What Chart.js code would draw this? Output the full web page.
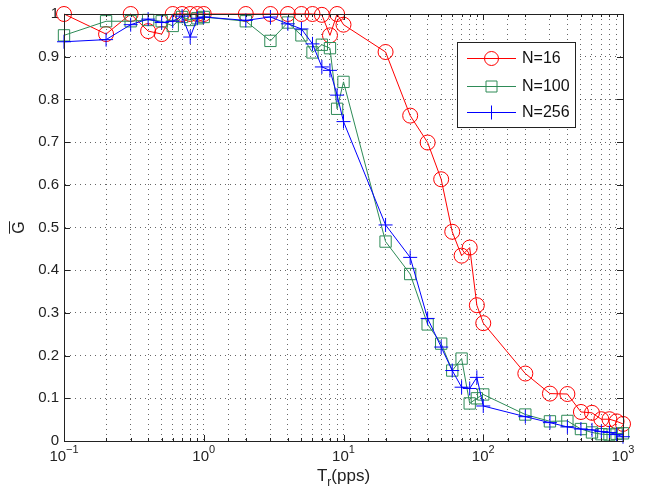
<!DOCTYPE html>
<html>
<head>
<meta charset="utf-8">
<script src="https://cdn.jsdelivr.net/npm/chart.js@4"></script>
<style>
  html, body { margin: 0; padding: 0; background: #fff; }
  #wrap { width: 656px; height: 492px; }
</style>
</head>
<body>
<div id="wrap"><canvas id="chart" width="656" height="492"></canvas></div>
<script>
// --- data ---
const rates = [0.1, 0.2, 0.3, 0.4, 0.5, 0.6, 0.7, 0.8, 0.9, 1,
  2, 3, 4, 5, 6, 7, 8, 9, 10,
  20, 30, 40, 50, 60, 70, 80, 90, 100,
  200, 300, 400, 500, 600, 700, 800, 900, 1000];
const g16 = [1, 0.953, 1, 0.96, 0.953, 1, 1, 1, 1, 1,
  1, 1, 1, 1, 1, 0.998, 0.95, 1, 0.975,
  0.911, 0.762, 0.699, 0.613, 0.49, 0.434, 0.453, 0.318, 0.276,
  0.158, 0.111, 0.11, 0.068, 0.066, 0.051, 0.051, 0.046, 0.04];
const g100 = [0.95, 0.983, 0.983, 0.986, 0.983, 0.972, 0.993, 0.986, 0.99, 0.993,
  0.983, 0.937, 0.98, 0.95, 0.91, 0.928, 0.92, 0.778, 0.841,
  0.467, 0.391, 0.273, 0.228, 0.165, 0.193, 0.088, 0.1, 0.109,
  0.062, 0.046, 0.047, 0.028, 0.02, 0.016, 0.015, 0.017, 0.018];
const g256 = [0.935, 0.94, 0.975, 0.988, 0.98, 0.983, 0.995, 0.946, 0.99, 0.993,
  0.985, 0.993, 0.977, 0.965, 0.93, 0.876, 0.868, 0.81, 0.748,
  0.506, 0.43, 0.287, 0.22, 0.165, 0.126, 0.123, 0.149, 0.082,
  0.057, 0.043, 0.033, 0.028, 0.026, 0.022, 0.02, 0.015, 0.01];
const seriesNames = ['N=16', 'N=100', 'N=256'];
const xExponents = [-1, 0, 1, 2, 3];
const yTicks = [0, 0.1, 0.2, 0.3, 0.4, 0.5, 0.6, 0.7, 0.8, 0.9, 1];

const RED = '#ff0000', GREEN = 'rgb(46,139,87)', BLUE = '#0000ff';
const FONT = '"Liberation Sans", Arial, sans-serif';

function toPoints(ys) {
  return rates.map((x, i) => ({ x: x, y: ys[i] }));
}

function isPow10(v) {
  const l = Math.log10(v);
  return Math.abs(l - Math.round(l)) < 1e-9;
}

// marker drawing for the legend
function marker(ctx, style, x, y, color) {
  ctx.strokeStyle = color;
  ctx.lineWidth = 1;
  ctx.beginPath();
  if (style === 'circle') {
    ctx.arc(x, y, 7, 0, Math.PI * 2);
  } else if (style === 'rect') {
    ctx.rect(x - 5.5, y - 5.5, 11, 11);
  } else {
    ctx.moveTo(x - 7, y); ctx.lineTo(x + 7, y);
    ctx.moveTo(x, y - 7); ctx.lineTo(x, y + 7);
  }
  ctx.stroke();
}

const decorPlugin = {
  id: 'decor',
  afterDraw(chart) {
    const { ctx, chartArea: a, scales } = chart;
    const xs = scales.x, ys = scales.y;
    ctx.save();

    // axes box
    ctx.strokeStyle = '#222';
    ctx.lineWidth = 1;
    ctx.strokeRect(a.left + 0.5, a.top + 0.5, a.right - a.left, a.bottom - a.top);

    // inward tick marks
    ctx.beginPath();
    xs.ticks.forEach(t => {
      const px = Math.round(xs.getPixelForValue(t.value)) + 0.5;
      const len = isPow10(t.value) ? 6 : 3;
      ctx.moveTo(px, a.bottom); ctx.lineTo(px, a.bottom - len);
      ctx.moveTo(px, a.top); ctx.lineTo(px, a.top + len);
    });
    yTicks.forEach(v => {
      const py = Math.round(ys.getPixelForValue(v)) + 0.5;
      ctx.moveTo(a.left, py); ctx.lineTo(a.left + 6, py);
      ctx.moveTo(a.right, py); ctx.lineTo(a.right - 6, py);
    });
    ctx.stroke();

    // x tick labels 10^n
    ctx.fillStyle = '#222';
    ctx.textBaseline = 'alphabetic';
    ctx.textAlign = 'left';
    xExponents.forEach(p => {
      const px = xs.getPixelForValue(Math.pow(10, p));
      ctx.font = '15px ' + FONT;
      const wBase = ctx.measureText('10').width;
      const exp = p < 0 ? '\u2212' + (-p) : String(p);
      ctx.font = '11px ' + FONT;
      const wExp = ctx.measureText(exp).width;
      const x0 = px - (wBase + wExp) / 2;
      ctx.font = '15px ' + FONT;
      ctx.fillText('10', x0, 461);
      ctx.font = '11px ' + FONT;
      ctx.fillText(exp, x0 + wBase, 453);
    });

    // x title T_r(pps)
    ctx.font = '17px ' + FONT;
    const wT = ctx.measureText('T').width;
    const wP = ctx.measureText('(pps)').width;
    ctx.font = '12px ' + FONT;
    const wR = ctx.measureText('r').width;
    const cx = (a.left + a.right) / 2;
    let tx = cx - (wT + wR + wP) / 2;
    ctx.font = '17px ' + FONT;
    ctx.fillText('T', tx, 481);
    ctx.font = '12px ' + FONT;
    ctx.fillText('r', tx + wT, 486);
    ctx.font = '17px ' + FONT;
    ctx.fillText('(pps)', tx + wT + wR, 481);

    // y title: G with overline, rotated
    ctx.save();
    ctx.translate(24, (a.top + a.bottom) / 2);
    ctx.rotate(-Math.PI / 2);
    ctx.font = '16px ' + FONT;
    ctx.textAlign = 'center';
    ctx.fillText('G', 0, 0);
    const wG = ctx.measureText('G').width;
    ctx.strokeStyle = '#222';
    ctx.beginPath();
    ctx.moveTo(-wG / 2, -14.5); ctx.lineTo(wG / 2, -14.5);
    ctx.stroke();
    ctx.restore();

    // legend
    const lx = 457, ly = 42, lw = 118, lh = 85;
    ctx.fillStyle = '#fff';
    ctx.fillRect(lx, ly, lw, lh);
    ctx.strokeStyle = '#222';
    ctx.strokeRect(lx + 0.5, ly + 0.5, lw, lh);
    const styles = ['circle', 'rect', 'cross'];
    const colors = [RED, GREEN, BLUE];
    const rowY = [58, 86, 112];
    ctx.font = '16px ' + FONT;
    ctx.textBaseline = 'middle';
    ctx.textAlign = 'left';
    seriesNames.forEach((name, i) => {
      const y = rowY[i] + 0.5;
      ctx.strokeStyle = colors[i];
      ctx.lineWidth = 1;
      ctx.beginPath();
      ctx.moveTo(467, y); ctx.lineTo(516, y);
      ctx.stroke();
      marker(ctx, styles[i], 491.5, y, colors[i]);
      ctx.fillStyle = '#111';
      ctx.fillText(name, 522, rowY[i] + 1);
    });

    ctx.restore();
  }
};

const bgPlugin = {
  id: 'bg',
  beforeDraw(chart) {
    const ctx = chart.ctx;
    ctx.save();
    ctx.fillStyle = '#fff';
    ctx.fillRect(0, 0, chart.width, chart.height);
    ctx.restore();
  }
};

function dataset(label, ys, color, style, radius, order) {
  return {
    label: label,
    data: toPoints(ys),
    borderColor: color,
    backgroundColor: 'rgba(0,0,0,0)',
    borderWidth: 1,
    pointStyle: style,
    pointRadius: radius,
    pointBorderWidth: 1,
    pointBorderColor: color,
    pointBackgroundColor: 'rgba(0,0,0,0)',
    tension: 0,
    clip: false,
    order: order
  };
}

new Chart(document.getElementById('chart'), {
  type: 'line',
  data: {
    datasets: [
      dataset(seriesNames[0], g16, RED, 'circle', 7.5, 3),
      dataset(seriesNames[1], g100, GREEN, 'rect', 8, 2),
      dataset(seriesNames[2], g256, BLUE, 'cross', 7, 1)
    ]
  },
  options: {
    responsive: false,
    animation: false,
    devicePixelRatio: 1,
    layout: { padding: { top: 11, right: 33, left: 0, bottom: 0 } },
    plugins: { legend: { display: false }, tooltip: { enabled: false } },
    scales: {
      x: {
        type: 'logarithmic',
        min: 0.1,
        max: 1000,
        afterFit: s => { s.height = 51; },
        grid: { color: 'rgba(0,0,0,0.6)', lineWidth: 1, drawTicks: false },
        border: { display: true, color: '#222', width: 1, dash: [1, 4] },
        ticks: { autoSkip: false, maxRotation: 0, callback: () => '' }
      },
      y: {
        min: 0,
        max: 1,
        afterFit: s => { s.width = 64; },
        afterBuildTicks: s => { s.ticks = yTicks.map(v => ({ value: v })); },
        grid: { color: 'rgba(0,0,0,0.6)', lineWidth: 1, drawTicks: false },
        border: { display: true, color: '#222', width: 1, dash: [1, 4] },
        ticks: {
          padding: 5,
          color: '#222',
          font: { family: FONT, size: 15 },
          callback: v => String(Number(v.toFixed(1)))
        }
      }
    }
  },
  plugins: [bgPlugin, decorPlugin]
});
</script>
</body>
</html>
